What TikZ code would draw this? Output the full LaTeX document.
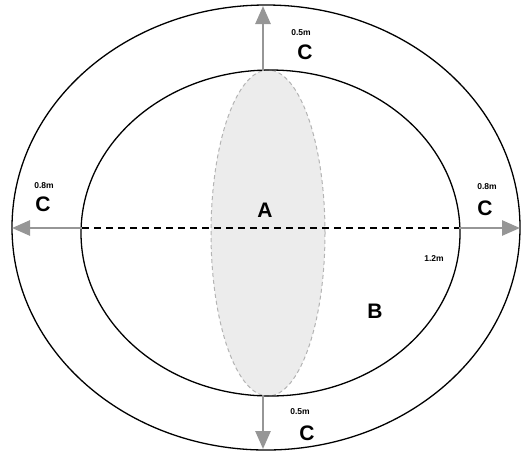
\documentclass[tikz,border=0pt]{standalone}
\usepackage{fontspec}
\setmainfont{Liberation Sans}
\usetikzlibrary{shapes.geometric,arrows.meta}
\definecolor{arrowgray}{RGB}{150,150,150}
\definecolor{fillgray}{RGB}{236,236,236}
\definecolor{edgegray}{RGB}{180,180,180}
\tikzset{
  ring/.style={ellipse, draw=black, line width=1.3pt, inner sep=0pt, outer sep=0pt},
  zone/.style={ellipse, draw=edgegray, fill=fillgray, dashed, dash pattern=on 4pt off 3pt, line width=1pt, inner sep=0pt, outer sep=0pt},
  grayarrow/.style={draw=arrowgray, line width=2.6pt, -{Triangle[length=18pt,width=15pt]}},
  bigletter/.style={font=\fontsize{21}{21}\selectfont\bfseries, inner sep=0pt},
  smalllabel/.style={font=\fontsize{8.5}{8.5}\selectfont\bfseries, inner sep=0pt},
}
\begin{document}
\begin{tikzpicture}[x=1pt,y=-1pt]
\useasboundingbox (0,0) rectangle (529,456);
\node[zone, minimum width=114pt, minimum height=326pt] (A0) at (268,233) {};
\node[ring, minimum width=508pt, minimum height=445pt] (outer) at (266,227.5) {};
\node[ring, minimum width=379pt, minimum height=326pt] (inner) at (270.5,233) {};
\coordinate (ti) at (263,71);
\coordinate (to) at (263,6);
\coordinate (bi) at (263,395);
\coordinate (bo) at (263,449);
\coordinate (li) at (82,228);
\coordinate (lo) at (12,228);
\coordinate (ri) at (459,228);
\coordinate (ro) at (520,228);
\draw[grayarrow] (ti) -- (to);
\draw[grayarrow] (bi) -- (bo);
\draw[grayarrow] (li) -- (lo);
\draw[grayarrow] (ri) -- (ro);
\draw[black, line width=1.8pt, dash pattern=on 7pt off 5pt] (li) -- (ri);
\node[bigletter] (A) at (265,210) {A};
\node[bigletter] (B) at (375,311) {B};
\node[bigletter] (Ct) at (305,52) {C};
\node[smalllabel] (lt) at (301,33) {0.5m};
\node[bigletter] (Cb) at (307,433) {C};
\node[smalllabel] (lb) at (300,412) {0.5m};
\node[bigletter] (Cl) at (43,204) {C};
\node[smalllabel] (ll) at (44,186) {0.8m};
\node[bigletter] (Cr) at (485,208) {C};
\node[smalllabel] (lr) at (487,187) {0.8m};
\node[smalllabel] (l12) at (434,259) {1.2m};
\end{tikzpicture}
\end{document}
